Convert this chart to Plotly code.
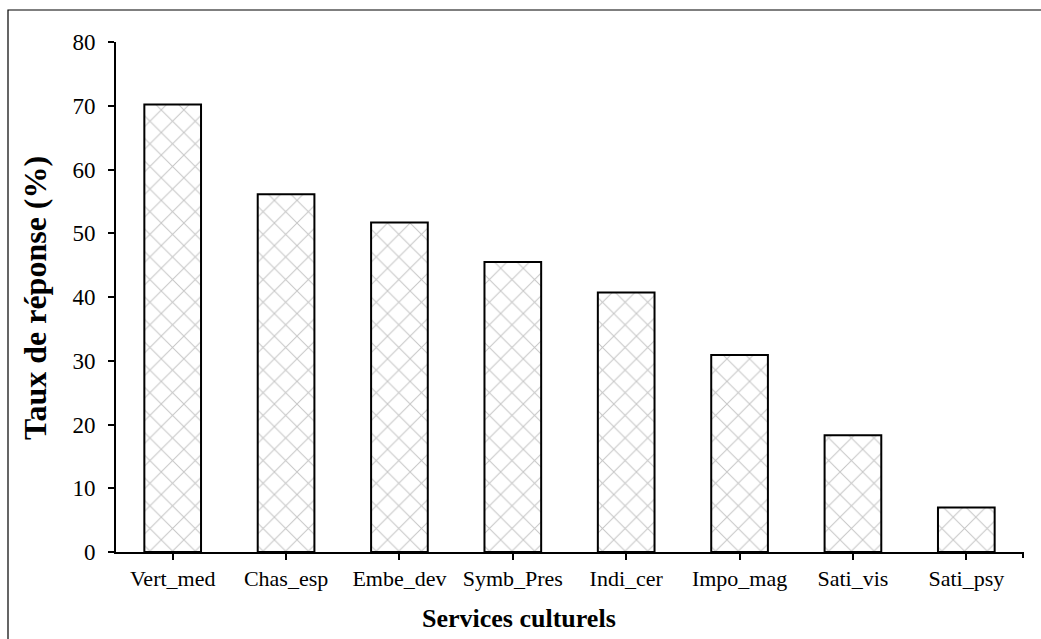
import plotly.graph_objects as go

categories = ["Vert_med", "Chas_esp", "Embe_dev", "Symb_Pres", "Indi_cer",
              "Impo_mag", "Sati_vis", "Sati_psy"]
values = [70.2, 56.1, 51.7, 45.5, 40.7, 30.9, 18.3, 7.0]
y_ticks = [0, 10, 20, 30, 40, 50, 60, 70, 80]
x_title = "Services culturels"
y_title = "Taux de réponse (%)"

W, H = 1041, 639
L, R, T, B = 116, 18, 42, 87
pw, ph = W - L - R, H - T - B

fig = go.Figure(go.Bar(
    x=categories, y=values, width=0.5,
    marker=dict(
        color="white",
        line=dict(color="black", width=2),
        pattern=dict(shape="x", size=16, solidity=0.12,
                     fgcolor="#8c8c8c", bgcolor="white", fillmode="overlay"),
    ),
))

font_family = "Liberation Serif, Times New Roman, serif"

fig.update_layout(
    width=W, height=H,
    margin=dict(l=L, r=R, t=T, b=B),
    plot_bgcolor="white", paper_bgcolor="white",
    showlegend=False,
    font=dict(family=font_family, size=22, color="black"),
)
fig.update_xaxes(
    showline=True, linecolor="black", linewidth=2,
    ticks="outside", ticklen=6, tickwidth=2, tickcolor="black",
    showgrid=False, range=[-0.5, 7.5],
    tickfont=dict(size=22),
)
fig.update_yaxes(
    showline=True, linecolor="black", linewidth=2,
    ticks="outside", ticklen=6, tickwidth=2, tickcolor="black",
    showgrid=False, range=[0, 80], tickvals=y_ticks, zeroline=False,
    tickfont=dict(size=23), ticklabelstandoff=8,
)

def px_x(px):
    return (px - L) / pw

def px_y(py):
    return (H - B - py) / ph

# axis titles placed as in the reference
fig.add_annotation(text="<b>%s</b>" % x_title, xref="paper", yref="paper",
                   x=px_x(519), y=px_y(618), showarrow=False,
                   font=dict(size=26), xanchor="center", yanchor="middle")
fig.add_annotation(text="<b>%s</b>" % y_title, xref="paper", yref="paper",
                   x=px_x(35), y=px_y(298), showarrow=False, textangle=-90,
                   font=dict(size=32), xanchor="center", yanchor="middle")

# right-end tick on x axis
fig.add_shape(type="line", xref="paper", yref="paper",
              x0=1.0, x1=1.0, y0=0, y1=px_y(552 + 6),
              line=dict(color="black", width=2))
# outer chart-area border (left and top edges visible)
fig.add_shape(type="rect", xref="paper", yref="paper",
              x0=px_x(8), x1=px_x(1080), y0=px_y(700), y1=px_y(10),
              line=dict(color="black", width=1.2), layer="below")

fig.write_html("out.html", config={"displayModeBar": False},
               post_script="document.body.style.margin='0';")
